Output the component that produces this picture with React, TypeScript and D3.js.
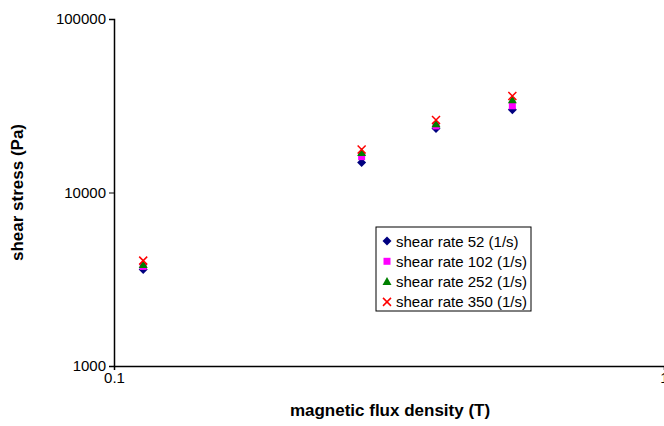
import React, { useRef, useEffect } from 'react';
import { select, scaleLog, axisBottom, axisLeft } from 'd3';

const fluxDensity = [0.113, 0.282, 0.385, 0.53];
const rate52 = [3600, 14900, 23400, 30000];
const rate102 = [3750, 16100, 24200, 31600];
const rate252 = [3850, 17000, 24900, 34200];
const rate350 = [4050, 17700, 26200, 36000];

const seriesNames = ['shear rate 52 (1/s)', 'shear rate 102 (1/s)', 'shear rate 252 (1/s)', 'shear rate 350 (1/s)'];
const seriesValues = [rate52, rate102, rate252, rate350];
const seriesColors = ['#000080', '#ff00ff', '#008000', '#ff0000'];

const xTicks = [0.1, 1];
const yTicks = [1000, 10000, 100000];

const width = 664;
const height = 426;
const margin = { top: 19, right: 0, bottom: 60, left: 114 };
const font = 'Arial, Liberation Sans, sans-serif';

// marker paths, centred on 0,0
const markerPaths = [
  'M0,-4.5L4.5,0L0,4.5L-4.5,0Z',
  'M-3.5,-3.5H3.5V3.5H-3.5Z',
  'M0,-4.5L4.5,3.5H-4.5Z',
  'M-4,-4L4,4M-4,4L4,-4',
];

const App = () => {
  const svgRef = useRef(null);

  useEffect(() => {
    const svgEl = select(svgRef.current);
    svgEl.selectAll('*').remove();

    const innerW = width - margin.left - margin.right;
    const innerH = height - margin.top - margin.bottom;

    const xScale = scaleLog().domain([0.1, 1]).range([0, innerW]);
    const yScale = scaleLog().domain([1000, 100000]).range([innerH, 0]);

    const svg = svgEl.append('g').attr('transform', `translate(${margin.left}, ${margin.top})`);

    // x-axis
    const xAxisGroup = svg.append('g')
      .attr('transform', `translate(0, ${innerH})`)
      .call(axisBottom(xScale).tickValues(xTicks).tickFormat(d => String(d)).tickSizeOuter(0).tickSize(4).tickPadding(2));
    xAxisGroup.select('.domain').attr('stroke', '#000').attr('stroke-width', 1.5);
    xAxisGroup.selectAll('line').attr('stroke', '#000');
    xAxisGroup.selectAll('text')
      .attr('fill', '#000')
      .attr('font-size', '15px')
      .attr('font-family', font);

    // y-axis
    const yAxisGroup = svg.append('g')
      .call(axisLeft(yScale).tickValues(yTicks).tickFormat(d => String(d)).tickSizeOuter(0).tickSize(5).tickPadding(3));
    yAxisGroup.select('.domain').attr('stroke', '#000').attr('stroke-width', 1.5);
    yAxisGroup.selectAll('line').attr('stroke', '#000');
    yAxisGroup.selectAll('text')
      .attr('fill', '#000')
      .attr('font-size', '15px')
      .attr('font-family', font);

    // axis titles
    svg.append('text')
      .attr('x', 276)
      .attr('y', innerH + 50)
      .attr('text-anchor', 'middle')
      .attr('font-size', '17px')
      .attr('font-weight', 'bold')
      .attr('font-family', font)
      .text('magnetic flux density (T)');

    svg.append('text')
      .attr('transform', `translate(${-91}, ${innerH / 2}) rotate(-90)`)
      .attr('text-anchor', 'middle')
      .attr('font-size', '17px')
      .attr('font-weight', 'bold')
      .attr('font-family', font)
      .text('shear stress (Pa)');

    const drawMarker = (g, i) => {
      const p = g.append('path').attr('d', markerPaths[i]);
      if (i === 3) {
        p.attr('stroke', seriesColors[i]).attr('stroke-width', 1.5).attr('fill', 'none');
      } else {
        p.attr('fill', seriesColors[i]);
      }
    };

    // points
    seriesValues.forEach((values, i) => {
      values.forEach((v, j) => {
        const g = svg.append('g')
          .attr('transform', `translate(${xScale(fluxDensity[j])}, ${yScale(v)})`);
        drawMarker(g, i);
      });
    });

    // legend
    const legend = svg.append('g').attr('transform', `translate(${376 - margin.left}, ${227 - margin.top})`);
    legend.append('rect')
      .attr('width', 155)
      .attr('height', 84)
      .attr('fill', '#fff')
      .attr('stroke', '#000')
      .attr('stroke-width', 1);
    seriesNames.forEach((name, i) => {
      const row = legend.append('g').attr('transform', `translate(11, ${14 + i * 20.3})`);
      drawMarker(row, i);
      row.append('text')
        .attr('x', 9)
        .attr('y', 5.5)
        .attr('font-size', '15px')
        .attr('font-family', font)
        .text(name);
    });
  }, []);

  return (
    <svg ref={svgRef} width={width} height={height} style={{ position: 'absolute', left: 0, top: 0, background: '#fff' }}></svg>
  );
};

export default App;
